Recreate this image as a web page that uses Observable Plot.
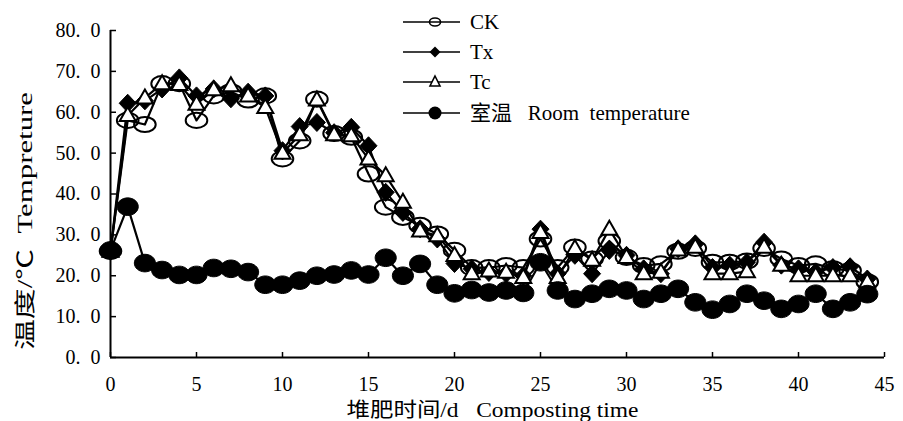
<!DOCTYPE html>
<html>
<head>
<meta charset="utf-8">
<script src="https://cdn.jsdelivr.net/npm/d3@7"></script>
<script src="https://cdn.jsdelivr.net/npm/@observablehq/plot@0.6"></script>
<style>
  html, body { margin: 0; padding: 0; background: #fff; }
  #wrap { position: relative; width: 903px; height: 421px; font-family: "Liberation Serif", "Noto Sans CJK SC", serif; }
  #legend { position: absolute; left: 0; top: 0; }
  .row { position: absolute; left: 403px; height: 26px; line-height: 26px; font-size: 21px; white-space: pre; color: #000; display: flex; align-items: center; }
  .row svg { display: block; margin-right: 9px; }
</style>
</head>
<body>
<div id="wrap"><div id="legend"></div></div>
<script>
// ---- data ----
const days = [0,1,2,3,4,5,6,7,8,9,10,11,12,13,14,15,16,17,18,19,20,21,22,23,24,25,26,27,28,29,30,31,32,33,34,35,36,37,38,39,40,41,42,43,44];
const ck   = [26,58,57,67,67,58,64,65,63,64,48.6,53,63.2,54.8,53.9,44.9,36.8,34.3,32.3,30.2,26.2,22,22,22.5,22,29,22,27,24.1,28.5,24.5,22.5,22.9,26,26.7,23.3,23.3,23.6,26.7,24.1,22.5,22.9,21.7,21.3,18.5];
const tx   = [26,62.2,62.8,65.7,68.4,64,65.7,63.3,64.9,64,50.6,56.5,57.5,55,56.3,51.8,40.4,35.5,31.5,29,23,21.7,20.8,20.5,20,31.4,20.5,25,20.5,26.2,25,21.7,20.5,26.6,27.8,22,22.6,23.3,28.2,22.6,21.7,20.9,22,22.2,19.2];
const tc   = [26,59.2,63.5,67,66.8,62,65.5,66.5,64,61.2,50,54.5,63,54.5,54.3,48.6,44.5,38,31,29.8,25,20.5,21.2,20.9,19.6,30.6,19.6,26.7,23.8,31.4,24.5,20.5,20.9,26.3,27,20.5,20.5,21,27,22.6,20,20,20,20,18.5];
const room = [26.2,36.9,23.1,21.4,20.2,20.2,21.9,21.7,20.9,17.8,17.8,18.8,20,20.3,21.3,20.3,24.4,20,22.9,17.8,15.7,16.5,15.9,16.4,15.8,23.3,16.4,14.3,15.6,16.8,16.4,14.3,15.6,16.8,13.5,11.7,13.1,15.6,13.9,11.9,13.1,15.6,11.9,13.5,15.5];
const seriesNames = ["CK", "Tx", "Tc", "室温   Room  temperature"];
const xTicks = [0,5,10,15,20,25,30,35,40,45];
const yTicks = [0,10,20,30,40,50,60,70,80];
const xLabel = "堆肥时间/d   Composting time";
const yLabel = "温度/℃  Tempreture";

const rows = days.map((d, i) => ({day: d, ck: ck[i], tx: tx[i], tc: tc[i], room: room[i]}));

// ---- custom marker shapes ----
const K = 0.5523;
const ellipse = (ax, ay) => ({draw(ctx, size) {
  const r = Math.sqrt(size / Math.PI), rx = r * ax, ry = r * ay;
  ctx.moveTo(rx, 0);
  ctx.bezierCurveTo(rx, K * ry, K * rx, ry, 0, ry);
  ctx.bezierCurveTo(-K * rx, ry, -rx, K * ry, -rx, 0);
  ctx.bezierCurveTo(-rx, -K * ry, -K * rx, -ry, 0, -ry);
  ctx.bezierCurveTo(K * rx, -ry, rx, -K * ry, rx, 0);
  ctx.closePath();
}});
const diamond = (ax, ay) => ({draw(ctx, size) {
  const r = Math.sqrt(size / Math.PI), w = r * ax, h = r * ay;
  ctx.moveTo(0, -h); ctx.lineTo(w, 0); ctx.lineTo(0, h); ctx.lineTo(-w, 0); ctx.closePath();
}});
const triangle = (ax, ay) => ({draw(ctx, size) {
  const r = Math.sqrt(size / Math.PI), w = r * ax, h = r * ay;
  ctx.moveTo(0, -h * 0.6); ctx.lineTo(w, h * 0.4); ctx.lineTo(-w, h * 0.4); ctx.closePath();
}});

const fmtY = d => d.toFixed(1).replace(".", ".\u2002");

const chart = Plot.plot({
  width: 903,
  height: 421,
  marginLeft: 110,
  marginRight: 19,
  marginTop: 30,
  marginBottom: 64,
  style: {fontFamily: '"Liberation Serif", "Noto Sans CJK SC", serif', background: "white", color: "black"},
  x: {domain: [0, 45], label: null},
  y: {domain: [0, 80], label: null},
  marks: [
    Plot.axisX({ticks: xTicks, tickSize: -5, tickPadding: 24, tickFormat: d => String(d), fontSize: 20, strokeWidth: 1.5}),
    Plot.axisY({ticks: yTicks, tickSize: -6, tickPadding: 16, tickFormat: fmtY, fontSize: 20, strokeWidth: 1.5}),
    Plot.ruleY([0], {stroke: "black", strokeWidth: 2}),
    Plot.ruleX([0], {stroke: "black", strokeWidth: 2}),
    Plot.line(rows, {x: "day", y: "ck", stroke: "black", strokeWidth: 2.2}),
    Plot.line(rows, {x: "day", y: "tx", stroke: "black", strokeWidth: 2.2}),
    Plot.line(rows, {x: "day", y: "tc", stroke: "black", strokeWidth: 2.2}),
    Plot.line(rows, {x: "day", y: "room", stroke: "black", strokeWidth: 2.2}),
    Plot.dot(rows, {x: "day", y: "ck", symbol: ellipse(1.35, 0.95), r: 8, fill: "none", stroke: "black", strokeWidth: 2}),
    Plot.dot(rows, {x: "day", y: "tx", symbol: diamond(1.0, 1.06), r: 8.5, fill: "black", stroke: "black", strokeWidth: 1}),
    Plot.dot(rows, {x: "day", y: "tc", symbol: triangle(1.0, 1.75), r: 8, fill: "white", stroke: "black", strokeWidth: 2}),
    Plot.dot(rows, {x: "day", y: "room", symbol: ellipse(1.2, 1.0), r: 8.8, fill: "black", stroke: "black", strokeWidth: 1}),
    Plot.text([xLabel], {frameAnchor: "bottom", textAnchor: "middle", lineAnchor: "middle", dy: 53, dx: -5, fontSize: 20, fill: "black"}),
    Plot.text([yLabel], {frameAnchor: "left", textAnchor: "middle", lineAnchor: "middle", rotate: -90, dx: -85, dy: 27, fontSize: 21, fill: "black"})
  ]
});
document.getElementById("wrap").prepend(chart);

// stretch the two axis titles to the reference's lengths
d3.select(chart).selectAll("text").each(function () {
  if (this.textContent === yLabel) d3.select(this).attr("textLength", 258).attr("lengthAdjust", "spacingAndGlyphs");
  if (this.textContent === xLabel) d3.select(this).attr("textLength", 292).attr("lengthAdjust", "spacingAndGlyphs");
});

// ---- legend (HTML overlay) ----
const swatch = kind => {
  let m = "";
  if (kind === 0) m = '<ellipse cx="32" cy="10" rx="5.5" ry="4" fill="none" stroke="black" stroke-width="1.6"/>';
  if (kind === 1) m = '<path d="M32,4.5L37.5,10L32,15.5L26.5,10Z" fill="black"/>';
  if (kind === 2) m = '<path d="M32,4L37,14L27,14Z" fill="white" stroke="black" stroke-width="1.6"/>';
  if (kind === 3) m = '<circle cx="32" cy="10" r="6.5" fill="black"/>';
  return `<svg width="58" height="20" viewBox="0 0 58 20"><line x1="0" y1="10" x2="57" y2="10" stroke="black" stroke-width="1.5"/>${m}</svg>`;
};
const centers = [22, 52, 82, 113];
const legend = document.getElementById("legend");
seriesNames.forEach((name, i) => {
  const div = document.createElement("div");
  div.className = "row";
  div.style.top = (centers[i] - 13) + "px";
  div.innerHTML = swatch(i) + `<span>${name}</span>`;
  legend.appendChild(div);
});
</script>
</body>
</html>
